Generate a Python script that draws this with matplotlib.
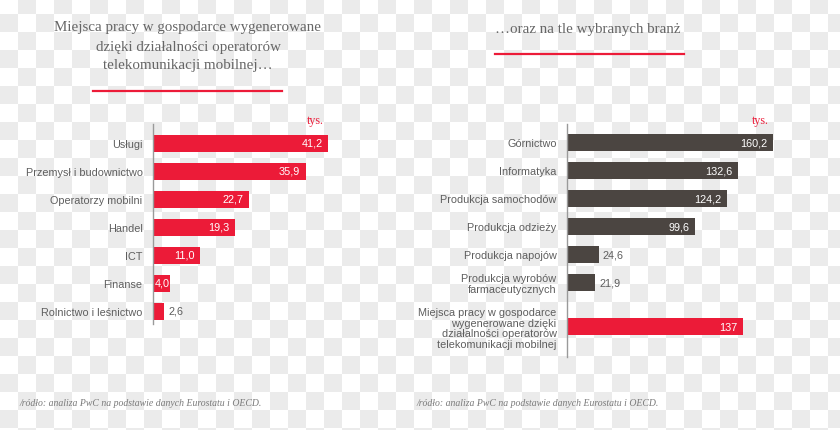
import numpy as np
import matplotlib
matplotlib.use("Agg")
import matplotlib.pyplot as plt

# data
left_labels = ["Usługi", "Przemysł i budownictwo", "Operatorzy mobilni", "Handel",
               "ICT", "Finanse", "Rolnictwo i leśnictwo"]
left_values = [41.2, 35.9, 22.7, 19.3, 11.0, 4.0, 2.6]
left_text = ["41,2", "35,9", "22,7", "19,3", "11,0", "4,0", "2,6"]

right_labels = ["Górnictwo", "Informatyka", "Produkcja samochodów", "Produkcja odzieży",
                "Produkcja napojów", "Produkcja wyrobów\nfarmaceutycznych",
                "Miejsca pracy w gospodarce\nwygenerowane dzięki\ndziałalności operatorów\ntelekomunikacji mobilnej"]
right_values = [160.2, 132.6, 124.2, 99.6, 24.6, 21.9, 137]
right_text = ["160,2", "132,6", "124,2", "99,6", "24,6", "21,9", "137"]

title_left = "Miejsca pracy w gospodarce wygenerowane\ndzięki działalności operatorów\ntelekomunikacji mobilnej…"
title_right = "…oraz na tle wybranych branż"
source = "/ródło: analiza PwC na podstawie danych Eurostatu i OECD."

RED = "#ec1b38"
DARK = "#4b4541"
LABEL = "#5e5e5e"
W, H = 840, 431
FS = 7.8

fig = plt.figure(figsize=(W / 100, H / 100), dpi=100)

# checkerboard background (transparent png look)
yy, xx = np.mgrid[0:H, 0:W]
chk = ((xx // 18 + (yy + 3) // 18) % 2).astype(float)
bg = fig.add_axes([0, 0, 1, 1], zorder=-1)
bg.imshow(chk, cmap=matplotlib.colors.ListedColormap(["#ffffff", "#ebebeb"]),
          interpolation="nearest", aspect="auto", extent=(0, W, H, 0))
bg.axis("off")


def px_axes(x0, y0, w, h):
    return fig.add_axes([x0 / W, 1 - (y0 + h) / H, w / W, h / H])


def bars(ax, ys, values, texts, labels, color_list, scale, y_first, top, bottom, inside_min):
    ax.set_facecolor("none")
    ax.barh(ys, values, height=17 / 28, color=color_list)
    ax.set_ylim((bottom - y_first) / 28, -(y_first - top) / 28)
    ax.set_xlim(0, ax.get_position().width * W / scale)
    ax.set_yticks(ys)
    ax.set_yticklabels(labels, fontsize=FS, color=LABEL, family="Liberation Sans",
                       linespacing=1.08, ha="right")
    ax.tick_params(axis="y", length=0, pad=7.5)
    ax.set_xticks([])
    for s in ["top", "right", "bottom"]:
        ax.spines[s].set_visible(False)
    ax.spines["left"].set_color("#9a9a9a")
    ax.spines["left"].set_linewidth(1)
    for y, v, t in zip(ys, values, texts):
        if v * scale >= 40:
            ax.annotate(t, (v, y), xytext=(-4, 0), textcoords="offset points",
                        ha="right", va="center", color="white", fontsize=FS,
                        family="Liberation Sans")
        elif v >= inside_min:
            ax.annotate(t, (0, y), xytext=(1.2, 0), textcoords="offset points",
                        ha="left", va="center", color="white", fontsize=FS,
                        family="Liberation Sans")
        else:
            ax.annotate(t, (v, y), xytext=(3, 0), textcoords="offset points",
                        ha="left", va="center", color=LABEL, fontsize=FS,
                        family="Liberation Sans")


# left chart
axl = px_axes(153, 125, 185, 200)
bars(axl, list(range(len(left_values))), left_values, left_text, left_labels,
     [RED] * len(left_values), 4.25, 144, 125, 325, 3.5)
fig.text(324 / W, 1 - 121 / H, "tys.", color=RED, fontsize=8.6, family="Liberation Serif",
         ha="right", va="center")

# right chart
ys_right = [0, 1, 2, 3, 4, 5, 6.6]
axr = px_axes(567, 125, 215, 233)
bars(axr, ys_right, right_values, right_text, right_labels,
     [DARK] * 6 + [RED], 1.286, 143, 125, 358, 40)
fig.text(769 / W, 1 - 121 / H, "tys.", color=RED, fontsize=8.6, family="Liberation Serif",
         ha="right", va="center")

# titles
fig.text(188 / W, 1 - 47 / H, title_left, color="#666666", fontsize=10.8,
         family="Liberation Serif", ha="center", va="center", linespacing=1.6)
fig.text(588 / W, 1 - 29 / H, title_right, color="#666666", fontsize=10.8,
         family="Liberation Serif", ha="center", va="center")
fig.add_artist(plt.Line2D([93 / W, 282 / W], [1 - 92 / H] * 2, color=RED, lw=1.6))
fig.add_artist(plt.Line2D([495 / W, 684 / W], [1 - 55 / H] * 2, color=RED, lw=1.6))

# source notes
for x in (19, 416):
    fig.text(x / W, 1 - 404 / H, source, color="#7a7a7a", fontsize=7.0,
             family="Liberation Serif", style="italic", ha="left", va="center")

fig.savefig("out.png", dpi=100)
